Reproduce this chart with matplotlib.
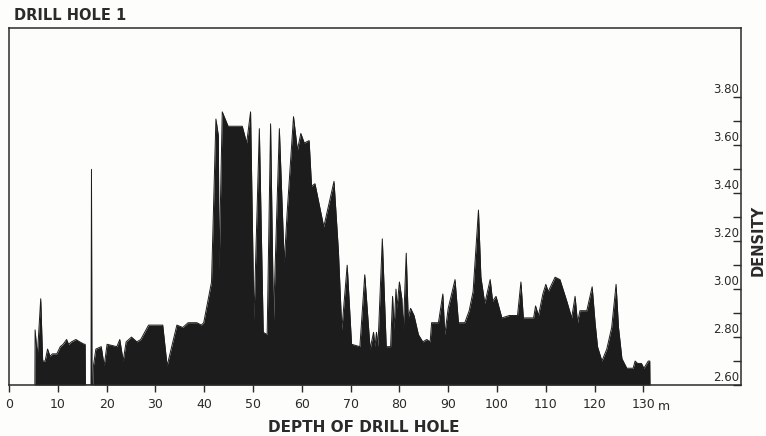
import matplotlib
matplotlib.use("Agg")
import matplotlib.pyplot as plt
import matplotlib.transforms as mtransforms
import numpy as np

# Density log of drill hole 1 (depth in m, density in g/cm3)
depth = [
    5.3, 5.35, 5.8, 6.5, 6.9, 7.4, 7.9, 8.4, 8.9, 9.8, 10.5, 11.1, 11.8, 12.2,
    12.8, 13.7, 14.5, 15.4, 15.6, 15.65, 16.8, 16.9, 17.0, 17.2,
    17.3, 17.8, 18.9, 19.5, 20.1, 22.1, 22.7, 23.4, 24.0, 25.1, 26.2, 27.0,
    28.6, 31.5, 32.4, 34.4, 35.6, 36.7, 38.5, 39.4, 39.9, 41.5, 42.4, 42.9,
    43.05, 43.7, 44.9, 47.8, 48.7, 49.5, 50.2, 51.3, 52.1, 52.9, 53.6, 54.2,
    55.4, 56.4, 57.0, 58.3, 59.1, 59.8, 60.5, 61.5, 62.0, 62.7, 64.5, 66.6,
    67.5, 68.2, 69.3, 70.2, 71.9, 72.9, 74.0, 74.7, 75.0, 75.3, 75.6, 76.5,
    77.3, 78.2, 78.6, 78.9, 79.3, 79.5, 80.0, 80.5, 80.8, 81.4, 81.8, 82.3,
    83.0, 83.9, 84.8, 85.6, 86.3, 86.6, 88.0, 88.9, 89.3, 90.0, 91.4, 92.1,
    93.4, 94.3, 95.1, 96.2, 96.7, 97.5, 98.6, 99.1, 99.8, 101.0, 102.5, 104.2,
    104.9, 105.4, 107.5, 107.9, 108.5, 109.4, 110.0, 110.5, 111.9, 112.9,
    114.3, 115.3, 116.0, 116.5, 117.0, 118.4, 119.5, 120.1, 120.6, 121.5,
    122.5, 123.5, 124.4, 124.9, 125.6, 126.6, 127.9, 128.3, 128.8, 129.6,
    130.1, 131.0, 131.3, 131.35,
]
density = [
    2.60, 2.83, 2.72, 2.96, 2.70, 2.70, 2.75, 2.72, 2.73, 2.73, 2.76, 2.77, 2.79, 2.77,
    2.78, 2.79, 2.78, 2.77, 2.77, 2.60, 2.60, 3.50, 2.60, 2.60,
    2.68, 2.75, 2.76, 2.68, 2.77, 2.76, 2.79, 2.70, 2.78, 2.80, 2.78, 2.79,
    2.85, 2.85, 2.68, 2.85, 2.84, 2.86, 2.86, 2.85, 2.86, 3.03, 3.71, 3.64,
    3.08, 3.74, 3.68, 3.68, 3.61, 3.74, 2.87, 3.67, 2.82, 2.81, 3.69, 2.87,
    3.67, 3.11, 3.32, 3.72, 3.58, 3.65, 3.61, 3.62, 3.43, 3.44, 3.26, 3.45,
    3.16, 2.83, 3.10, 2.77, 2.76, 3.06, 2.75, 2.82, 2.76, 2.82, 2.76, 3.21,
    2.76, 2.76, 2.97, 2.83, 3.00, 2.92, 3.03, 2.96, 2.83, 3.15, 2.88, 2.92,
    2.89, 2.81, 2.78, 2.79, 2.78, 2.86, 2.86, 2.98, 2.81, 2.92, 3.04, 2.86,
    2.86, 2.91, 2.99, 3.33, 3.05, 2.94, 3.04, 2.95, 2.97, 2.88, 2.89, 2.89,
    3.03, 2.88, 2.88, 2.93, 2.89, 2.98, 3.02, 2.99, 3.05, 3.04,
    2.95, 2.88, 2.97, 2.86, 2.91, 2.91, 3.01, 2.86, 2.76, 2.70,
    2.75, 2.84, 3.02, 2.84, 2.71, 2.67, 2.67, 2.70, 2.69, 2.69,
    2.67, 2.70, 2.70, 2.60,
]
x_ticks = [0, 10, 20, 30, 40, 50, 60, 70, 80, 90, 100, 110, 120, 130]
y_major = [2.60, 2.80, 3.00, 3.20, 3.40, 3.60, 3.80]
y_minor = [2.70, 2.90, 3.10, 3.30, 3.50, 3.70]

INK = "#1c1c1c"
FRAME = "#2a2a2a"

plt.rcParams["font.family"] = ["DejaVu Sans"]

fig = plt.figure(figsize=(7.66, 4.36), dpi=100)
fig.patch.set_facecolor("#fdfdfb")
ax = fig.add_axes([9 / 766, 51 / 436, 732 / 766, 357 / 436])
ax.set_facecolor("#fdfdfb")

BASE = 2.60
ax.fill_between(depth, BASE, density, color=INK, linewidth=0)
ax.plot(depth, density, color=INK, linewidth=0.7)

ax.set_xlim(0, 150)
ax.set_ylim(BASE, 4.09)

for spine in ax.spines.values():
    spine.set_color(FRAME)
    spine.set_linewidth(1.1)

ax.set_xticks(x_ticks)
ax.set_xticklabels([str(t) for t in x_ticks], fontsize=9, color=FRAME)
ax.tick_params(axis="x", direction="out", length=5, width=1.0, pad=4, color=FRAME)
# unit after the last depth label
xunit_tr = mtransforms.blended_transform_factory(ax.transData, ax.transAxes)
ax.text(133.0, -0.071, "m", transform=xunit_tr, fontsize=9, color=FRAME,
        ha="left", va="baseline")

ax.set_yticks(y_major)
ax.set_yticks(y_minor, minor=True)
ax.tick_params(axis="y", which="both", direction="in", length=6, width=1.0, color=FRAME,
               left=False, right=True, labelleft=False, labelright=False)
ylab_tr = mtransforms.blended_transform_factory(ax.transAxes, ax.transData)
for v in y_major:
    ax.text(0.997, v + 0.005, f"{v:.2f}", transform=ylab_tr, fontsize=8.5, color=FRAME,
            ha="right", va="bottom")

fig.text(14 / 766, 1 - 16 / 436, "DRILL HOLE 1", fontsize=10.5, fontweight="bold",
         color=FRAME, ha="left", va="center")
fig.text(364 / 766, 1 - 427 / 436, "DEPTH OF DRILL HOLE", fontsize=11, fontweight="bold",
         color=FRAME, ha="center", va="center")
fig.text(758 / 766, 1 - 240 / 436, "DENSITY", fontsize=10.5, fontweight="bold",
         color=FRAME, ha="center", va="center", rotation=90)

fig.savefig("out.png", dpi=100, facecolor=fig.get_facecolor())
